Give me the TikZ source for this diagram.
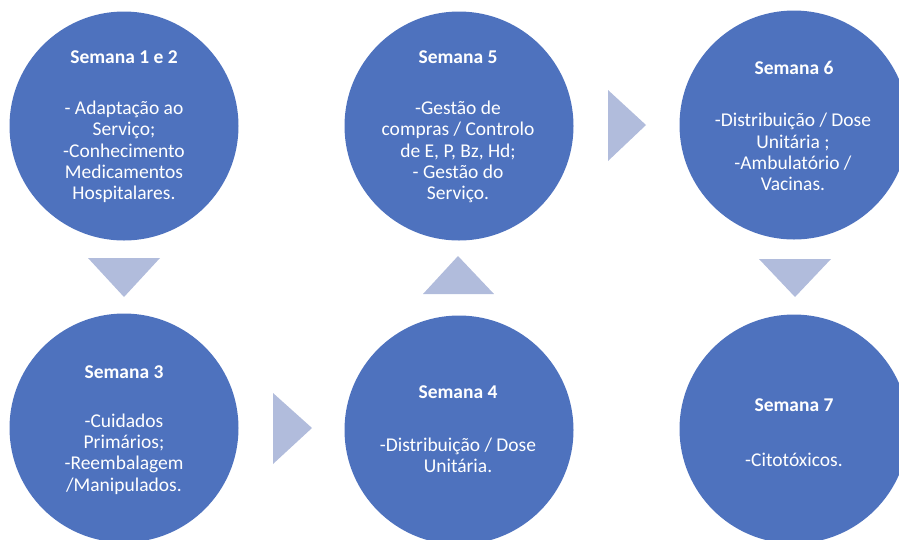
\documentclass[tikz,border=0pt]{standalone}
\usepackage{fontspec}
\setmainfont{Carlito}
\definecolor{circblue}{HTML}{4E72BE}
\definecolor{arrowblue}{HTML}{B1BCDC}
\begin{document}
\begin{tikzpicture}[x=1pt,y=-1pt,
  week/.style={circle,fill=circblue,draw=none,minimum size=229pt,inner sep=0pt},
  ttl/.style={text=white,font=\fontsize{19.5}{21.5}\selectfont\bfseries,align=center,inner sep=0pt,anchor=center},
  bdy/.style={text=white,font=\fontsize{19.5}{21.3}\selectfont,align=center,inner sep=0pt,anchor=center},
  chev/.style={fill=arrowblue,draw=none}]
\useasboundingbox (0,0) rectangle (899,539);
\clip (0,0) rectangle (899,539);
% circles
\node[week] (c1) at (124,126) {};
\node[week] (c5) at (459,126) {};
\node[week] (c6) at (794,125) {};
\node[week] (c3) at (124,428) {};
\node[week] (c4) at (459,430) {};
\node[week] (c7) at (794,429) {};
% chevrons
\fill[chev] (88,258) -- (160,258) -- (124,297) -- cycle;
\fill[chev] (273,393) -- (273,464) -- (312,428) -- cycle;
\fill[chev] (423,294) -- (494,294) -- (458,256) -- cycle;
\fill[chev] (608,90) -- (608,161) -- (646,125) -- cycle;
\fill[chev] (759,259) -- (831,259) -- (795,297) -- cycle;
% texts
\node[ttl] (t1) at (124,57) {Semana 1 e 2};
\node[bdy] (b1) at (124,152) {- Adaptação ao\\Serviço;\\-Conhecimento\\Medicamentos\\Hospitalares.};
\node[ttl] (t5) at (458,57) {Semana 5};
\node[bdy] (b5) at (458,152) {-Gestão de\\compras / Controlo\\de E, P, Bz, Hd;\\- Gestão do\\Serviço.};
\node[ttl] (t6) at (794,68) {Semana 6};
\node[bdy] (b6) at (793,152) {-Distribuição / Dose\\Unitária ;\\-Ambulatório /\\Vacinas.};
\node[ttl] (t3) at (124,372) {Semana 3};
\node[bdy] (b3) at (124,454) {-Cuidados\\Primários;\\-Reembalagem\\/Manipulados.};
\node[ttl] (t4) at (458,392) {Semana 4};
\node[bdy] (b4) at (458,455) {-Distribuição / Dose\\Unitária.};
\node[ttl] (t7) at (794,405) {Semana 7};
\node[bdy] (b7) at (794,460) {-Citotóxicos.};
\end{tikzpicture}
\end{document}
